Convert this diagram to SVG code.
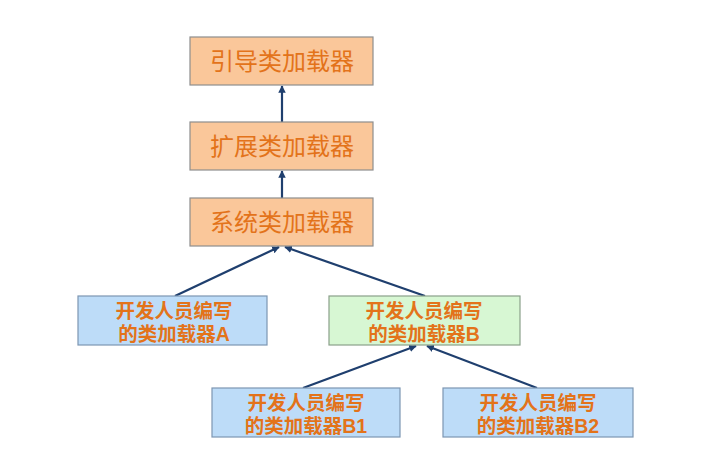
<svg xmlns="http://www.w3.org/2000/svg" width="707" height="459" viewBox="0 0 707 459">
<defs>
<marker id="ah" viewBox="0 0 10 10" refX="9" refY="5" markerWidth="3.4" markerHeight="3.4" orient="auto" markerUnits="strokeWidth">
<path d="M0,0 L10,5 L0,10 Z" fill="#1F3F6E"/>
</marker>
<style>
.o{fill:#FAC79A;stroke:#8E8E8E;stroke-width:1.2}
.b{fill:#BDDCF8;stroke:#7C96B2;stroke-width:1.2}
.g{fill:#D7F7D3;stroke:#8AA08A;stroke-width:1.2}
.t{font-family:"Liberation Sans","Noto Sans CJK SC",sans-serif;fill:#E3731A;text-anchor:middle}
.big{font-size:24px}
.sm{font-size:19.5px;font-weight:bold}
.c{stroke:#1F3F6E;stroke-width:2.2;fill:none;marker-end:url(#ah)}
</style>
</defs>
<rect width="707" height="459" fill="#FFFFFF"/>
<g id="connectors">
<line class="c" x1="282" y1="122" x2="282" y2="86"/>
<line class="c" x1="282" y1="198" x2="282" y2="171"/>
<line class="c" x1="175" y1="296" x2="279" y2="247"/>
<line class="c" x1="425" y1="296" x2="285" y2="247"/>
<line class="c" x1="303" y1="388" x2="416" y2="346"/>
<line class="c" x1="537" y1="388" x2="427" y2="346"/>
</g>
<g id="bootstrap">
<rect class="o" x="190" y="37" width="183" height="48"/>
<text class="t big" x="282" y="70">引导类加载器</text>
</g>
<g id="extension">
<rect class="o" x="190" y="122" width="183" height="48"/>
<text class="t big" x="282" y="155">扩展类加载器</text>
</g>
<g id="system">
<rect class="o" x="190" y="198" width="183" height="48"/>
<text class="t big" x="282" y="231">系统类加载器</text>
</g>
<g id="devA">
<rect class="b" x="78" y="296" width="189" height="49"/>
<text class="t sm" x="174" y="318">开发人员编写</text>
<text class="t sm" x="174" y="341">的类加载器A</text>
</g>
<g id="devB">
<rect class="g" x="329" y="296" width="191" height="49"/>
<text class="t sm" x="424" y="318">开发人员编写</text>
<text class="t sm" x="424" y="341">的类加载器B</text>
</g>
<g id="devB1">
<rect class="b" x="212" y="388" width="188" height="49"/>
<text class="t sm" x="306" y="410">开发人员编写</text>
<text class="t sm" x="306" y="433">的类加载器B1</text>
</g>
<g id="devB2">
<rect class="b" x="443" y="388" width="190" height="49"/>
<text class="t sm" x="538" y="410">开发人员编写</text>
<text class="t sm" x="538" y="433">的类加载器B2</text>
</g>
</svg>
